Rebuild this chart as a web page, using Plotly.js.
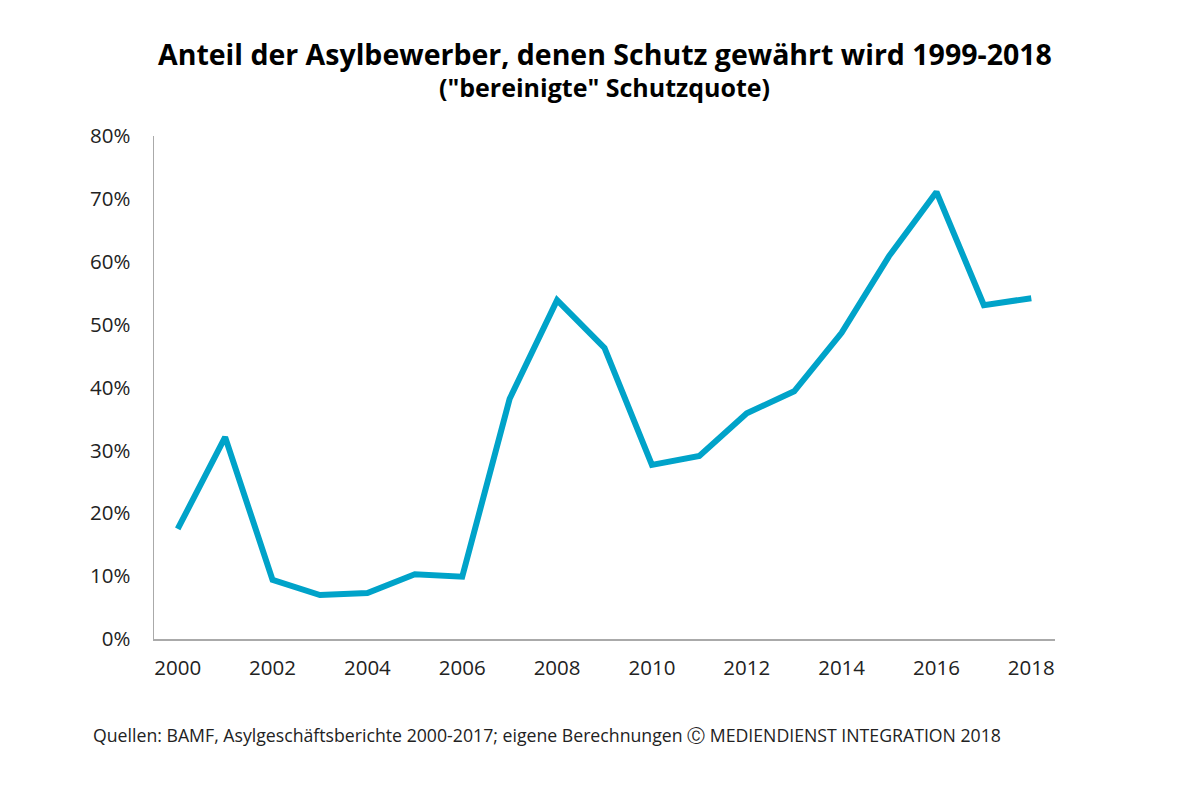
<!DOCTYPE html>
<html>
<head>
<meta charset="utf-8">
<script src="https://cdn.plot.ly/plotly-3.0.1.min.js"></script>
<style>html,body{margin:0;padding:0;background:#fff}#chart{width:1200px;height:788px}</style>
</head>
<body>
<div id="chart"></div>
<script>
const years = [2000,2001,2002,2003,2004,2005,2006,2007,2008,2009,2010,2011,2012,2013,2014,2015,2016,2017,2018];
const schutzquote = [0.175,0.321,0.094,0.070,0.073,0.103,0.099,0.382,0.539,0.463,0.277,0.291,0.359,0.394,0.487,0.609,0.711,0.531,0.542];
const xTicks = [2000,2002,2004,2006,2008,2010,2012,2014,2016,2018];
const yTicks = [0,0.1,0.2,0.3,0.4,0.5,0.6,0.7,0.8];
const titleText = "Anteil der Asylbewerber, denen Schutz gewährt wird 1999-2018";
const subtitleText = "(\"bereinigte\" Schutzquote)";
const sourceText = "Quellen: BAMF, Asylgeschäftsberichte 2000-2017; eigene Berechnungen Ⓒ MEDIENDIENST INTEGRATION 2018";

const trace = {
  x: years, y: schutzquote, type: 'scatter', mode: 'lines',
  line: {color: '#00a3c9', width: 6, shape: 'linear'},
  hoverinfo: 'x+y'
};
const font = "'Open Sans', sans-serif";
const layout = {
  width: 1200, height: 788,
  paper_bgcolor: '#fff', plot_bgcolor: '#fff',
  margin: {l: 154, r: 145, t: 136, b: 149},
  showlegend: false,
  font: {family: font, color: '#222', size: 20},
  xaxis: {
    range: [1999.5, 2018.5], tickvals: xTicks, ticktext: xTicks.map(String),
    showgrid: false, zeroline: false, showline: true, linecolor: '#aaa', linewidth: 1.5,
    ticks: '', ticklen: 0, ticklabelstandoff: 10, tickfont: {size: 20.5, color: '#222'}
  },
  yaxis: {
    range: [0, 0.8], tickvals: yTicks, ticktext: yTicks.map(v => Math.round(v*100) + '%'),
    showgrid: false, zeroline: false, showline: true, linecolor: '#aaa', linewidth: 1.5,
    ticks: '', ticklen: 0, ticklabelstandoff: 18, tickfont: {size: 20.5, color: '#222'}
  },
  annotations: [
    {text: '<b>' + titleText + '</b>', xref: 'paper', yref: 'paper', x: 0.5, y: 1, yshift: 82, xanchor: 'center', yanchor: 'middle', showarrow: false, font: {family: font, size: 28.5, color: '#000'}},
    {text: '<b>' + subtitleText + '</b>', xref: 'paper', yref: 'paper', x: 0.5, y: 1, yshift: 49, xanchor: 'center', yanchor: 'middle', showarrow: false, font: {family: font, size: 25, color: '#000'}},
    {text: sourceText, xref: 'paper', yref: 'paper', x: 0, xshift: -63, y: 0, yshift: -96, xanchor: 'left', yanchor: 'middle', showarrow: false, font: {family: font, size: 17.7, color: '#222'}}
  ]
};
Plotly.newPlot('chart', [trace], layout, {displayModeBar: false, staticPlot: true});
</script>
</body>
</html>
